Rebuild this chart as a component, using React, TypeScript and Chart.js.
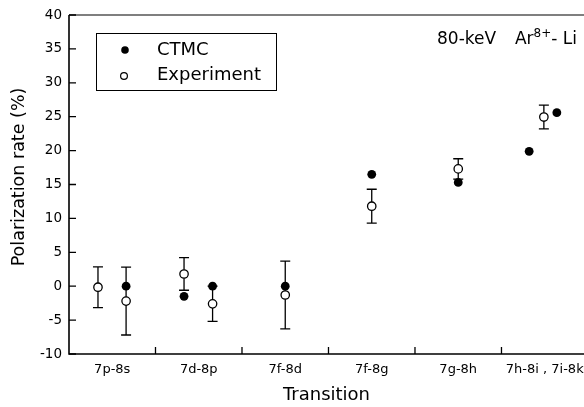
import React, { useEffect, useRef } from 'react';
import { Chart, registerables } from 'chart.js';

Chart.register(...registerables);

// Categories along the x axis (each occupies one unit on a linear scale)
const categories = ['7p-8s', '7d-8p', '7f-8d', '7f-8g', '7g-8h', '7h-8i , 7i-8k'];
const yTickValues = [-10, -5, 0, 5, 10, 15, 20, 25, 30, 35, 40];

// CTMC (filled circles)
const ctmcX = [0.66, 1.33, 1.66, 2.5, 3.5, 4.5, 5.32, 5.64];
const ctmcY = [0, -1.5, 0, 0, 16.5, 15.3, 19.9, 25.6];

// Experiment (open circles with error bars)
const expX = [0.335, 0.66, 1.33, 1.66, 2.5, 3.5, 4.5, 5.49];
const expY = [-0.15, -2.2, 1.8, -2.6, -1.3, 11.8, 17.3, 24.95];
const expErr = [3.0, 5.0, 2.4, 2.6, 5.0, 2.5, 1.5, 1.75];

const FONT = '"DejaVu Sans", "Liberation Sans", sans-serif';
const INK = '#000';

const framePlugin = {
  id: 'frame',
  beforeDatasetsDraw(chart: any) {
    const { ctx, chartArea, scales } = chart;
    const { left, right, top, bottom } = chartArea;
    const x = scales.x;
    const y = scales.y;
    ctx.save();
    ctx.strokeStyle = INK;
    // error bars
    ctx.lineWidth = 1.3;
    expX.forEach((xv, i) => {
      const px = x.getPixelForValue(xv);
      const pt = y.getPixelForValue(expY[i] + expErr[i]);
      const pb = y.getPixelForValue(expY[i] - expErr[i]);
      ctx.beginPath();
      ctx.moveTo(px, pt);
      ctx.lineTo(px, pb);
      ctx.moveTo(px - 5, pt);
      ctx.lineTo(px + 5, pt);
      ctx.moveTo(px - 5, pb);
      ctx.lineTo(px + 5, pb);
      ctx.stroke();
    });
    // axes frame
    ctx.lineWidth = 1.6;
    ctx.beginPath();
    ctx.moveTo(left, top);
    ctx.lineTo(left, bottom);
    ctx.lineTo(right, bottom);
    ctx.stroke();
    ctx.lineWidth = 1.2;
    ctx.beginPath();
    ctx.moveTo(left, top);
    ctx.lineTo(right, top);
    ctx.stroke();
    // inward ticks
    ctx.lineWidth = 1.3;
    ctx.beginPath();
    yTickValues.forEach((v) => {
      const py = y.getPixelForValue(v);
      ctx.moveTo(left, py);
      ctx.lineTo(left + 7, py);
    });
    for (let i = 1; i < categories.length; i++) {
      const px = x.getPixelForValue(i);
      ctx.moveTo(px, bottom);
      ctx.lineTo(px, bottom - 7);
    }
    ctx.stroke();
    ctx.restore();
  },
  afterDraw(chart: any) {
    const { ctx } = chart;
    ctx.save();
    // y axis title
    ctx.fillStyle = INK;
    ctx.translate(19, 177);
    ctx.rotate(-Math.PI / 2);
    ctx.textAlign = 'center';
    ctx.textBaseline = 'middle';
    ctx.font = `17.5px ${FONT}`;
    ctx.fillText('Polarization rate (%)', 0, 0);
    ctx.restore();

    ctx.save();
    // legend box
    ctx.strokeStyle = INK;
    ctx.lineWidth = 1;
    ctx.strokeRect(96.5, 33.5, 180, 57);
    ctx.fillStyle = '#000';
    ctx.beginPath();
    ctx.arc(125, 50, 3.8, 0, Math.PI * 2);
    ctx.fill();
    ctx.beginPath();
    ctx.arc(124, 76, 3.4, 0, Math.PI * 2);
    ctx.fillStyle = '#fff';
    ctx.fill();
    ctx.lineWidth = 1.2;
    ctx.stroke();
    ctx.fillStyle = INK;
    ctx.font = `18px ${FONT}`;
    ctx.textBaseline = 'middle';
    ctx.textAlign = 'left';
    ctx.fillText('CTMC', 157, 50.5);
    ctx.fillText('Experiment', 157, 75.5);
    // annotation title
    ctx.textBaseline = 'alphabetic';
    const baseY = 43.5;
    ctx.font = `17px ${FONT}`;
    ctx.fillText('80-keV', 437, baseY);
    // right part, right-aligned at 577
    const wLi = ctx.measureText('- Li').width;
    const wAr = ctx.measureText('Ar').width;
    ctx.font = `12px ${FONT}`;
    const wSup = ctx.measureText('8+').width;
    let tx = 577 - wLi - wSup - wAr;
    ctx.font = `17px ${FONT}`;
    ctx.fillText('Ar', tx, baseY);
    tx += wAr;
    ctx.font = `12px ${FONT}`;
    ctx.fillText('8+', tx, baseY - 6.5);
    tx += wSup;
    ctx.font = `17px ${FONT}`;
    ctx.fillText('- Li', tx, baseY);
    ctx.restore();
  },
};

export default function App() {
  const ref = useRef<HTMLCanvasElement>(null);

  useEffect(() => {
    if (!ref.current) return;
    const chart = new Chart(ref.current, {
      type: 'scatter',
      data: {
        datasets: [
          {
            label: 'CTMC',
            data: ctmcX.map((x, i) => ({ x, y: ctmcY[i] })),
            pointRadius: 4.4,
            pointHoverRadius: 4.4,
            backgroundColor: '#000',
            borderColor: '#000',
            borderWidth: 0,
            showLine: false,
          },
          {
            label: 'Experiment',
            data: expX.map((x, i) => ({ x, y: expY[i] })),
            pointRadius: 4.2,
            pointHoverRadius: 4.2,
            backgroundColor: '#fff',
            borderColor: INK,
            borderWidth: 1.3,
            showLine: false,
          },
        ],
      },
      options: {
        responsive: false,
        animation: false,
        events: [],
        layout: { autoPadding: false, padding: { top: 15, left: 0, right: 0, bottom: 0 } },
        plugins: {
          legend: { display: false },
          tooltip: { enabled: false },
        },
        scales: {
          x: {
            type: 'linear',
            position: 'bottom',
            min: 0,
            max: 5.954,
            grid: { display: false, drawTicks: false },
            border: { display: false },
            afterBuildTicks: (s: any) => {
              s.ticks = categories.map((_, i) => ({ value: i + 0.5 }));
            },
            afterFit: (s: any) => {
              s.height = 53;
              s.paddingLeft = 0;
              s.paddingRight = 0;
            },
            ticks: {
              autoSkip: false,
              maxRotation: 0,
              padding: 8,
              color: INK,
              font: { family: FONT, size: 13 },
              callback: (v: any) => categories[Math.floor(Number(v))] ?? '',
            },
            title: {
              display: true,
              text: 'Transition',
              color: INK,
              font: { family: FONT, size: 18 },
              padding: { top: 0, bottom: 1 },
            },
          },
          y: {
            type: 'linear',
            min: -10,
            max: 40,
            grid: { display: false, drawTicks: false },
            border: { display: false },
            afterBuildTicks: (s: any) => {
              s.ticks = yTickValues.map((v) => ({ value: v }));
            },
            afterFit: (s: any) => {
              s.width = 69;
              s.paddingTop = 0;
              s.paddingBottom = 0;
            },
            ticks: {
              padding: 7,
              color: INK,
              font: { family: FONT, size: 13.5 },
            },
          },
        },
      },
      plugins: [framePlugin],
    });
    return () => chart.destroy();
  }, []);

  return (
    <div style={{ position: 'absolute', left: 0, top: 0, width: 584, height: 407, background: '#fff' }}>
      <canvas ref={ref} width={584} height={407} style={{ display: 'block' }} />
    </div>
  );
}
